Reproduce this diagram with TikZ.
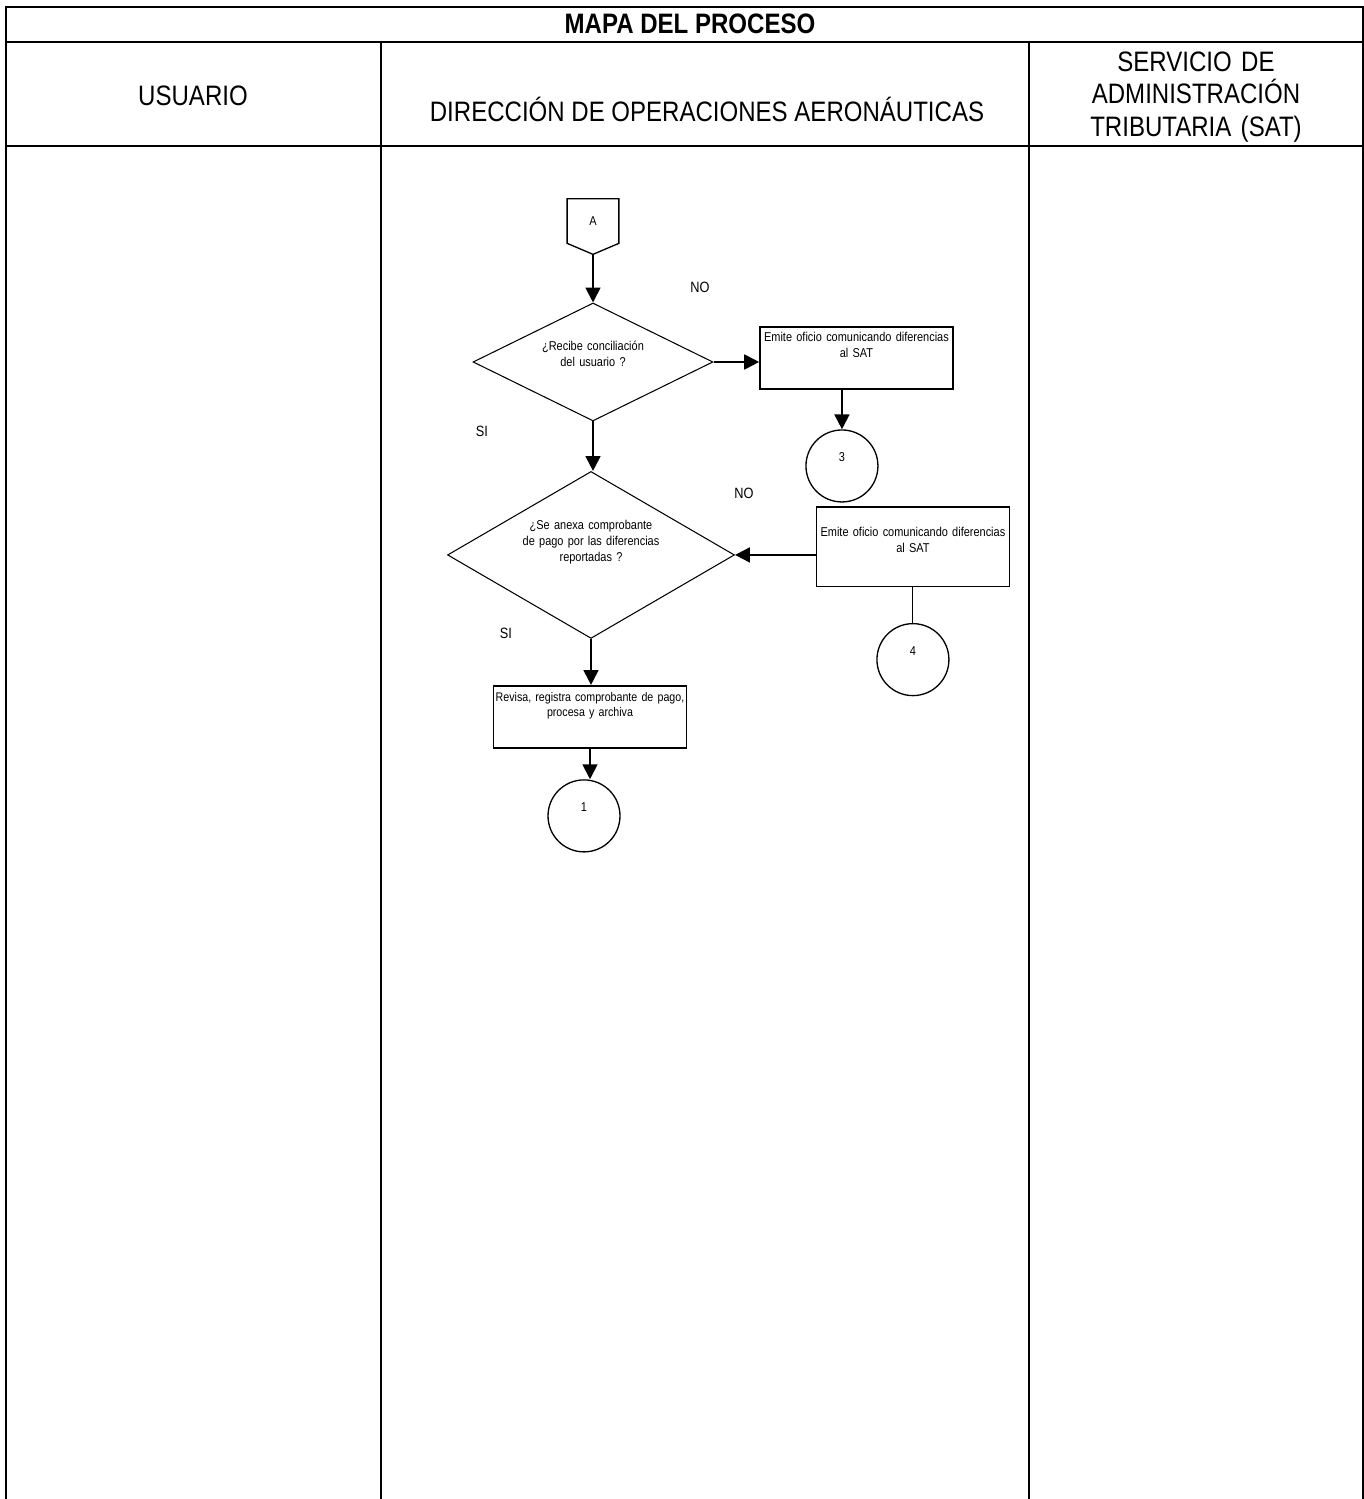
\documentclass[tikz,border=0pt]{standalone}
\usepackage{fontspec}
\setmainfont{Liberation Sans}[FakeStretch=0.855]
\usepackage{tikz}
\usetikzlibrary{arrows.meta,shapes.geometric,positioning}
\tikzstyle{recNode} = [rectangle, draw=black, line width=0.9pt, text width=3.86cm, inner xsep=0pt, inner ysep=2pt, align=center, font=\fontsize{7.3}{9}\selectfont]
\tikzstyle{diaNode} = [diamond, draw=black, line width=0.6pt, inner sep=0pt, align=center, text height=5.5pt, font=\fontsize{7.3}{9}\selectfont]
\tikzstyle{cirNode} = [circle, draw=black, line width=0.75pt, minimum size=1.44cm, inner sep=0pt, text height=5.3pt, text depth=10.3pt, font=\fontsize{7.3}{9}\selectfont]
\tikzstyle{conNode} = [rectangle, minimum width=1.02cm, minimum height=0.88cm, inner sep=0pt, font=\fontsize{7.3}{9}\selectfont]
\tikzstyle{eNode} = [inner sep=0pt, font=\fontsize{8.5}{10}\selectfont]
\tikzstyle{headNode} = [inner sep=0pt, anchor=base, align=center, font=\fontsize{16}{18.7}\selectfont]
\tikzstyle{arrow} = [line width=1.1pt, -{Triangle[length=8.5pt,width=8.5pt]}, draw=black]
\tikzstyle{plainLine} = [line width=0.6pt, draw=black]
\tikzstyle{tabLine} = [line width=0.6pt, draw=black]

\begin{document}
\begin{tikzpicture}[x=0.02cm, y=-0.02cm, node distance=2cm]
        \useasboundingbox (0,0) rectangle (1364,1499);
        \draw [tabLine] (6,1499) -- (6,7) -- (1363,7) -- (1363,1499);
        \draw [tabLine] (6,42) -- (1363,42);
        \draw [tabLine] (6,146) -- (1363,146);
        \draw [tabLine] (381,42) -- (381,1499);
        \draw [tabLine] (1029,42) -- (1029,1499);

        \node (title) [headNode, font=\fontsize{16}{18.7}\selectfont\bfseries] at (690,33) {MAPA DEL PROCESO};
        \node (usu) [headNode] at (193,105.5) {USUARIO};
        \node (doa) [headNode] at (707,121) {DIRECCIÓN DE OPERACIONES AERONÁUTICAS};
        \node (sat) [headNode, text width=6cm] at (1196,71) {SERVICIO DE\\ADMINISTRACIÓN\\TRIBUTARIA (SAT)};

        \node (conA) [conNode] at (593,221) {A};
        \coordinate (tipA) at ([yshift=-0.22cm]conA.south);
        \draw [line width=0.75pt] (conA.north west) -- (conA.north east) -- (conA.south east) -- (tipA) -- (conA.south west) -- cycle;

        \node (d1) [diaNode, below of=conA, node distance=2.82cm, minimum width=4.8cm, minimum height=2.36cm, aspect=2, text width=2.2cm, text depth=18.3pt] 
        {¿Recibe conciliación\\del usuario ?};
        \node (b1) [recNode, right of=d1, node distance=5.27cm, yshift=0.08cm, text height=6.1pt, text depth=25.1pt] 
        {Emite oficio comunicando diferencias\\al SAT};
        \node (c3) [cirNode, below of=b1, node distance=2.16cm, xshift=-0.29cm] {3};
        \node (d2) [diaNode, below of=d1, node distance=3.86cm, xshift=-0.04cm, minimum width=5.74cm, minimum height=3.34cm, aspect=1.72, text width=2.8cm, text depth=34.1pt] 
        {¿Se anexa comprobante\\de pago por las diferencias\\reportadas ?};
        \node (b2) [recNode, right of=d2, node distance=6.44cm, yshift=0.166cm, text height=14.8pt, text depth=26.6pt] 
        {Emite oficio comunicando diferencias\\al SAT};
        \node (c4) [cirNode, below of=b2, node distance=2.26cm] {4};
        \node (b3) [recNode, below of=d2, node distance=3.24cm, xshift=-0.02cm, text width=4.06cm, inner xsep=-0.1cm, text height=6.8pt, text depth=24.7pt, font=\fontsize{7.1}{8.8}\selectfont] 
        {Revisa, registra comprobante de pago,\\procesa y archiva};
        \node (c1) [cirNode, below of=b3, node distance=1.98cm, xshift=-0.12cm] {1};

        \node (no1) [eNode] at (700,287) {NO};
        \node (si1) [eNode] at (482,431) {SI};
        \node (no2) [eNode] at (744,493) {NO};
        \node (si2) [eNode] at (506,633) {SI};

        \draw [arrow] (tipA) -- (d1.north);
        \draw [arrow] (d1.east) -- (d1.east -| b1.west);
        \draw [arrow] (b1.south -| c3) -- (c3);
        \draw [arrow] (d1.south) -- (d1.south |- d2.north);
        \draw [arrow] (b2.west |- d2.east) -- (d2.east);
        \draw [plainLine] (b2) -- (c4);
        \draw [arrow] (d2.south) -- (d2.south |- b3.north);
        \draw [arrow] (b3.south) -- (b3.south |- c1.north);
\end{tikzpicture}
\end{document}
